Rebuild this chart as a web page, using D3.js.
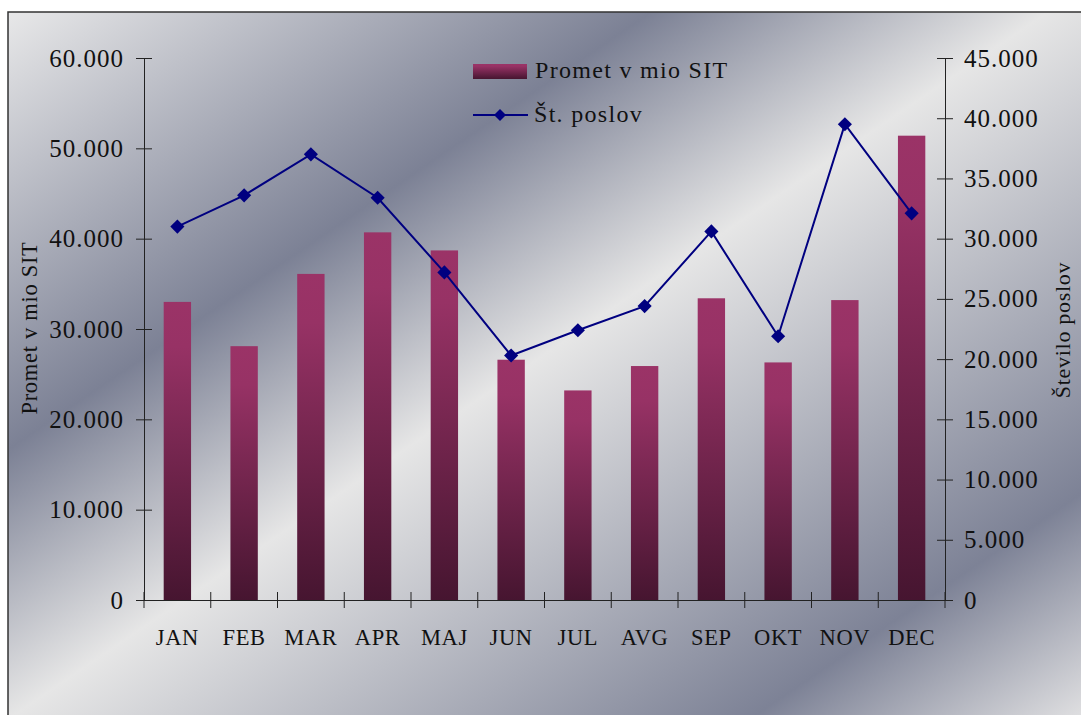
<!DOCTYPE html>
<html><head><meta charset="utf-8">
<script src="https://cdn.jsdelivr.net/npm/d3@7"></script>
<style>
html,body{margin:0;padding:0;background:#fff;overflow:hidden;}
svg text{font-family:"Liberation Serif","Times New Roman",serif;fill:#111;}
</style></head>
<body>
<svg id="chart" width="1081" height="715"></svg>
<script>
const months = ["JAN","FEB","MAR","APR","MAJ","JUN","JUL","AVG","SEP","OKT","NOV","DEC"];
const promet = [33000, 28100, 36100, 40700, 38700, 26600, 23200, 25900, 33400, 26300, 33200, 51400];
const posli  = [31000, 33600, 37000, 33400, 27200, 20300, 22400, 24400, 30600, 21900, 39500, 32100];
const leftTicks  = [0, 10000, 20000, 30000, 40000, 50000, 60000];
const rightTicks = [0, 5000, 10000, 15000, 20000, 25000, 30000, 35000, 40000, 45000];
const seriesNames = ["Promet v mio SIT", "Št. poslov"];
const leftTitle = "Promet v mio SIT";
const rightTitle = "Število poslov";

const svg = d3.select("#chart");
const defs = svg.append("defs");

// background gradient
const bg = defs.append("linearGradient").attr("id","bg")
  .attr("gradientUnits","userSpaceOnUse")
  .attr("x1",0).attr("y1",0).attr("x2",674).attr("y2",991);
[[0,"#ececec"],[0.314,"#7c8195"],[0.50,"#e6e6e6"],[0.848,"#7d8296"],[1,"#dedee0"]]
  .forEach(([o,c])=>bg.append("stop").attr("offset",o).attr("stop-color",c));

// bar gradient
const bar = defs.append("linearGradient").attr("id","bar")
  .attr("x1",0).attr("y1",0).attr("x2",0).attr("y2",1);
[[0,"#9b3367"],[0.15,"#973265"],[1,"#461530"]]
  .forEach(([o,c])=>bar.append("stop").attr("offset",o).attr("stop-color",c));

svg.append("rect").attr("x",8).attr("y",12).attr("width",1100).attr("height",740)
  .attr("fill","url(#bg)").attr("stroke","#333").attr("stroke-width",1.5);

const x = d3.scaleBand().domain(months).range([144,945]).padding(0);
const yL = d3.scaleLinear().domain([0,60000]).range([600,58]);
const yR = d3.scaleLinear().domain([0,45000]).range([600,58]);
const loc = d3.formatLocale({decimal:",", thousands:".", grouping:[3], currency:["",""]});
const fmt = loc.format(",d");
const bw = x.bandwidth();
const barW = bw*0.41;

// bars
svg.append("g").selectAll("rect").data(months).join("rect")
  .attr("x",(d)=>x(d)+bw/2-barW/2)
  .attr("y",(d,i)=>yL(promet[i]))
  .attr("width",barW)
  .attr("height",(d,i)=>yL(0)-yL(promet[i]))
  .attr("fill","url(#bar)");

// left axis
const gL = svg.append("g").attr("transform","translate(144,0)")
  .call(d3.axisLeft(yL).tickValues(leftTicks).tickFormat(fmt).tickSize(8).tickSizeOuter(0).tickPadding(12));
gL.selectAll(".tick line").attr("x1",8).attr("stroke","#222");
gL.select(".domain").attr("stroke","#222");
gL.selectAll("text").style("font-size","25px").style("letter-spacing","1px").attr("fill","#111");

// right axis
const gR = svg.append("g").attr("transform","translate(945,0)")
  .call(d3.axisRight(yR).tickValues(rightTicks).tickFormat(fmt).tickSize(8).tickSizeOuter(0).tickPadding(11));
gR.selectAll(".tick line").attr("x1",-8).attr("stroke","#222");
gR.select(".domain").attr("stroke","#222");
gR.selectAll("text").style("font-size","25px").style("letter-spacing","1px").attr("fill","#111");

// bottom axis
const gB = svg.append("g").attr("transform","translate(0,600)")
  .call(d3.axisBottom(x).tickSize(0).tickSizeOuter(0).tickPadding(29));
gB.select(".domain").attr("stroke","#222");
gB.selectAll("text").style("font-size","22.5px").style("letter-spacing","0.6px").attr("fill","#111");
const edges = months.map(m=>x(m)).concat([x.range()[1]]);
gB.append("g").selectAll("line").data(edges).join("line")
  .attr("x1",d=>d).attr("x2",d=>d).attr("y1",-8).attr("y2",8).attr("stroke","#222");

// line series
const cx = (d)=>x(d)+bw/2;
svg.append("path").datum(months)
  .attr("d", d3.line().x(cx).y((d,i)=>yR(posli[i])))
  .attr("fill","none").attr("stroke","#000080").attr("stroke-width",2);
svg.append("g").selectAll("path").data(months).join("path")
  .attr("d", d3.symbol(d3.symbolSquare, 100))
  .attr("transform",(d,i)=>`translate(${cx(d)},${yR(posli[i])}) rotate(45)`)
  .attr("fill","#000080");

// legend
const lg = svg.append("g");
lg.append("rect").attr("x",473).attr("y",64).attr("width",54).attr("height",15).attr("fill","url(#bar)");
lg.append("text").attr("x",535).attr("y",78).text(seriesNames[0])
  .style("font-size","24px").style("letter-spacing","1.3px");
lg.append("line").attr("x1",473).attr("x2",528).attr("y1",115).attr("y2",115)
  .attr("stroke","#000080").attr("stroke-width",2);
lg.append("path").attr("d", d3.symbol(d3.symbolSquare, 72))
  .attr("transform","translate(500,115) rotate(45)").attr("fill","#000080");
lg.append("text").attr("x",534).attr("y",122).text(seriesNames[1])
  .style("font-size","24px").style("letter-spacing","1.3px");

// axis titles
svg.append("text").attr("transform","translate(37,328) rotate(-90)")
  .attr("text-anchor","middle").text(leftTitle)
  .style("font-size","22.5px").style("letter-spacing","0.7px");
svg.append("text").attr("transform","translate(1070,330) rotate(-90)")
  .attr("text-anchor","middle").text(rightTitle)
  .style("font-size","22px").style("letter-spacing","0.7px");
</script>
</body></html>
